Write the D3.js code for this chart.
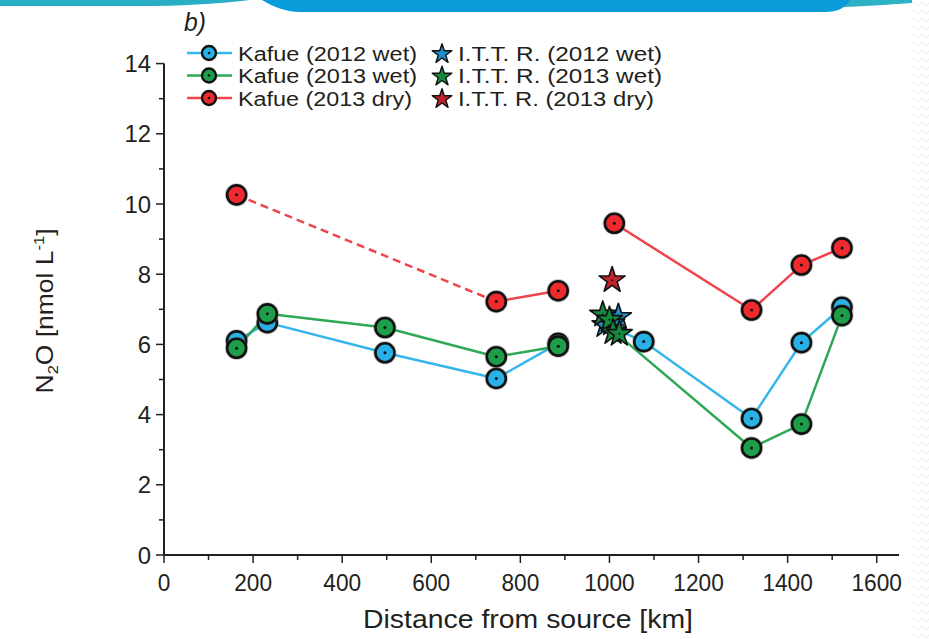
<!DOCTYPE html>
<html><head><meta charset="utf-8">
<script src="https://cdn.jsdelivr.net/npm/d3@7"></script>
<style>
html,body{margin:0;padding:0;background:#fff;}
text{font-family:"Liberation Sans",Arial,sans-serif;fill:#231f20;}
</style></head>
<body>
<svg id="chart" width="929" height="639"></svg>
<script>
// ---------- DATA ----------
const xTicks = [0,200,400,600,800,1000,1200,1400,1600];
const yTicks = [0,2,4,6,8,10,12,14];

// Kafue 2012 wet
const k12wKmA = [163, 232, 496, 746, 885];
const k12wValA = [6.10, 6.62, 5.76, 5.03, 6.03];
const k12wKmB = [1077, 1319, 1431, 1522];
const k12wValB = [6.08, 3.89, 6.05, 7.06];
const k12wJoinKm = 1012, k12wJoinVal = 6.45;

// Kafue 2013 wet
const k13wKmA = [163, 232, 496, 746, 885];
const k13wValA = [5.89, 6.87, 6.48, 5.65, 5.95];
const k13wKmB = [1319, 1431, 1522];
const k13wValB = [3.05, 3.73, 6.82];
const k13wJoinKm = 1012, k13wJoinVal = 6.35;

// Kafue 2013 dry
const k13dKmDash = [163, 746];
const k13dValDash = [10.26, 7.22];
const k13dKmA = [746, 885];
const k13dValA = [7.22, 7.53];
const k13dKmB = [1011, 1319, 1431, 1522];
const k13dValB = [9.45, 6.98, 8.26, 8.75];

// I.T.T. R. stars
const i12wKm = [990, 1020, 1005];
const i12wVal = [6.55, 6.78, 6.60];
const i13wKm = [985, 1000, 1008, 1022];
const i13wVal = [6.85, 6.70, 6.35, 6.30];
const i13dKm = [1006];
const i13dVal = [7.83];

const legendKafue = ["Kafue (2012 wet)","Kafue (2013 wet)","Kafue (2013 dry)"];
const legendITTR = ["I.T.T. R. (2012 wet)","I.T.T. R. (2013 wet)","I.T.T. R. (2013 dry)"];

// ---------- STYLE ----------
const colBlue = "#27b1e6", colGreen = "#1f9e4a", colRed = "#ee2a2f";
const lineBlue = "#35b6ea", lineGreen = "#2ea854", lineRed = "#f0434a";
const starBlue = "#1f8ccc", starGreen = "#138a3d", starRed = "#c0232b";

const svg = d3.select("#chart");
const x = d3.scaleLinear().domain([0,1650]).range([164,899]);
const y = d3.scaleLinear().domain([0,14]).range([555,63.6]);

// ---------- page decoration ----------
svg.append("path").attr("d","M0,0 L250,0 C215,4 180,6 140,6 L0,6 Z").attr("fill","#2aaec6");
svg.append("path").attr("d","M700,0 L912,0 L912,3 C880,5 860,7 830,7 Z").attr("fill","#2cb2c4");
svg.append("path").attr("d","M262,0 L850,0 C845,8 838,12 825,12 L300,12 C285,12 272,6 262,0 Z").attr("fill","#0a9bd9");
const defs = svg.append("defs");
const pat = defs.append("pattern").attr("id","zz").attr("width",17).attr("height",8).attr("patternUnits","userSpaceOnUse");
pat.append("path").attr("d","M0,6 L4,2 L8,6 L12,2 L16,6").attr("fill","none").attr("stroke","#ececec").attr("stroke-width",1);
svg.append("rect").attr("x",912).attr("y",0).attr("width",17).attr("height",639).attr("fill","url(#zz)");

// ---------- axes ----------
const axisG = svg.append("g");
axisG.append("line").attr("x1",x(0)).attr("x2",x(1650)).attr("y1",y(0)).attr("y2",y(0)).attr("stroke","#231f20").attr("stroke-width",2);
axisG.append("line").attr("x1",x(0)).attr("x2",x(0)).attr("y1",y(0)).attr("y2",y(14)).attr("stroke","#231f20").attr("stroke-width",2);
d3.range(0,1700,100).filter(v=>v<=1600).forEach(v=>{
  const major = v%200===0;
  axisG.append("line").attr("x1",x(v)).attr("x2",x(v)).attr("y1",y(0)).attr("y2",y(0)+(major?8:5)).attr("stroke","#231f20").attr("stroke-width",1.5);
});
axisG.selectAll("text.xt").data(xTicks).enter().append("text")
  .attr("x",d=>x(d)).attr("y",591).attr("text-anchor","middle").attr("font-size",24)
  .attr("textLength",d=>String(d).length*12.6).attr("lengthAdjust","spacingAndGlyphs").text(d=>d);
d3.range(0,15,1).forEach(v=>{
  const major = v%2===0;
  axisG.append("line").attr("x1",x(0)).attr("x2",x(0)-(major?8:5)).attr("y1",y(v)).attr("y2",y(v)).attr("stroke","#231f20").attr("stroke-width",1.5);
});
axisG.selectAll("text.yt").data(yTicks).enter().append("text")
  .attr("x",151).attr("y",d=>y(d)+8.5).attr("text-anchor","end").attr("font-size",24)
  .attr("textLength",d=>String(d).length*13.3).attr("lengthAdjust","spacingAndGlyphs").text(d=>d);

// axis titles
svg.append("text").attr("x",528).attr("y",628).attr("text-anchor","middle").attr("font-size",26)
  .attr("textLength",330).attr("lengthAdjust","spacingAndGlyphs").text("Distance from source [km]");
const yl = svg.append("text").attr("transform","translate(53,311) rotate(-90)").attr("text-anchor","middle").attr("font-size",24)
  .attr("textLength",165).attr("lengthAdjust","spacingAndGlyphs");
yl.append("tspan").text("N");
yl.append("tspan").attr("font-size",15).attr("dy",5).text("2");
yl.append("tspan").attr("dy",-5).text("O [nmol L");
yl.append("tspan").attr("font-size",15).attr("dy",-9).text("-1");
yl.append("tspan").attr("dy",9).text("]");

svg.append("text").attr("x",184).attr("y",31).attr("font-size",26).attr("font-style","italic")
  .attr("textLength",22).attr("lengthAdjust","spacingAndGlyphs").text("b)");

// ---------- lines ----------
const line = d3.line().x(d=>x(d[0])).y(d=>y(d[1]));
const zip = (a,b)=>a.map((v,i)=>[v,b[i]]);
const lg = svg.append("g").attr("fill","none").attr("stroke-width",2.5).attr("stroke-linejoin","round");
lg.append("path").attr("d",line(zip(k13dKmDash,k13dValDash))).attr("stroke",lineRed).attr("stroke-dasharray","8,5");
lg.append("path").attr("d",line(zip(k13dKmA,k13dValA))).attr("stroke",lineRed);
lg.append("path").attr("d",line(zip(k13dKmB,k13dValB))).attr("stroke",lineRed);
lg.append("path").attr("d",line(zip(k12wKmA,k12wValA))).attr("stroke",lineBlue);
lg.append("path").attr("d",line([[k12wJoinKm,k12wJoinVal]].concat(zip(k12wKmB,k12wValB)))).attr("stroke",lineBlue);
lg.append("path").attr("d",line(zip(k13wKmA,k13wValA))).attr("stroke",lineGreen);
lg.append("path").attr("d",line([[k13wJoinKm,k13wJoinVal]].concat(zip(k13wKmB,k13wValB)))).attr("stroke",lineGreen);

// ---------- circles ----------
function circles(pts, fill, r){
  const g = svg.append("g");
  pts.forEach(p=>{
    g.append("circle").attr("cx",x(p[0])).attr("cy",y(p[1])).attr("r",r+2.2).attr("fill","#6b6b6b").attr("opacity",0.35);
    g.append("circle").attr("cx",x(p[0])).attr("cy",y(p[1])).attr("r",r).attr("fill",fill).attr("stroke","#111").attr("stroke-width",2.6);
    g.append("circle").attr("cx",x(p[0])).attr("cy",y(p[1])).attr("r",1.5).attr("fill","#111");
  });
}
circles(zip(k13dKmDash,k13dValDash).concat(zip(k13dKmA,k13dValA).slice(1), zip(k13dKmB,k13dValB)), colRed, 9.5);
circles(zip(k12wKmA,k12wValA).concat(zip(k12wKmB,k12wValB)), colBlue, 9.5);
circles(zip(k13wKmA,k13wValA).concat(zip(k13wKmB,k13wValB)), colGreen, 9.5);

// ---------- stars ----------
const starPath = d3.symbol().type(d3.symbolStar);
function stars(pts, fill, size){
  const g = svg.append("g");
  pts.forEach(p=>{
    g.append("path").attr("d",starPath.size(size)()).attr("transform",`translate(${x(p[0])},${y(p[1])})`)
      .attr("fill",fill).attr("stroke","#111").attr("stroke-width",1.6).attr("stroke-linejoin","round");
    g.append("circle").attr("cx",x(p[0])).attr("cy",y(p[1])).attr("r",1).attr("fill","#111");
  });
}
stars(zip(i12wKm,i12wVal), starBlue, 210);
stars(zip(i13wKm,i13wVal), starGreen, 210);
stars(zip(i13dKm,i13dVal), starRed, 210);

// ---------- legend ----------
const legY = [53, 75.5, 98];
const kCols = [colBlue, colGreen, colRed], kLines = [lineBlue, lineGreen, lineRed], sCols = [starBlue, starGreen, starRed];
const kW = [179, 179, 174], sW = [204, 204, 196];
const leg = svg.append("g");
legendKafue.forEach((t,i)=>{
  leg.append("line").attr("x1",187).attr("x2",232).attr("y1",legY[i]).attr("y2",legY[i]).attr("stroke",kLines[i]).attr("stroke-width",2.5);
  leg.append("circle").attr("cx",209).attr("cy",legY[i]).attr("r",7).attr("fill",kCols[i]).attr("stroke","#111").attr("stroke-width",2.4);
  leg.append("circle").attr("cx",209).attr("cy",legY[i]).attr("r",1.3).attr("fill","#111");
  leg.append("text").attr("x",238).attr("y",legY[i]+7.5).attr("font-size",19.5).attr("textLength",kW[i]).attr("lengthAdjust","spacingAndGlyphs").text(t);
});
legendITTR.forEach((t,i)=>{
  leg.append("path").attr("d",starPath.size(120)()).attr("transform",`translate(442,${legY[i]+1})`)
    .attr("fill",sCols[i]).attr("stroke","#111").attr("stroke-width",1.4).attr("stroke-linejoin","round");
  leg.append("text").attr("x",458).attr("y",legY[i]+7.5).attr("font-size",19.5).attr("textLength",sW[i]).attr("lengthAdjust","spacingAndGlyphs").text(t);
});
</script>
</body></html>
